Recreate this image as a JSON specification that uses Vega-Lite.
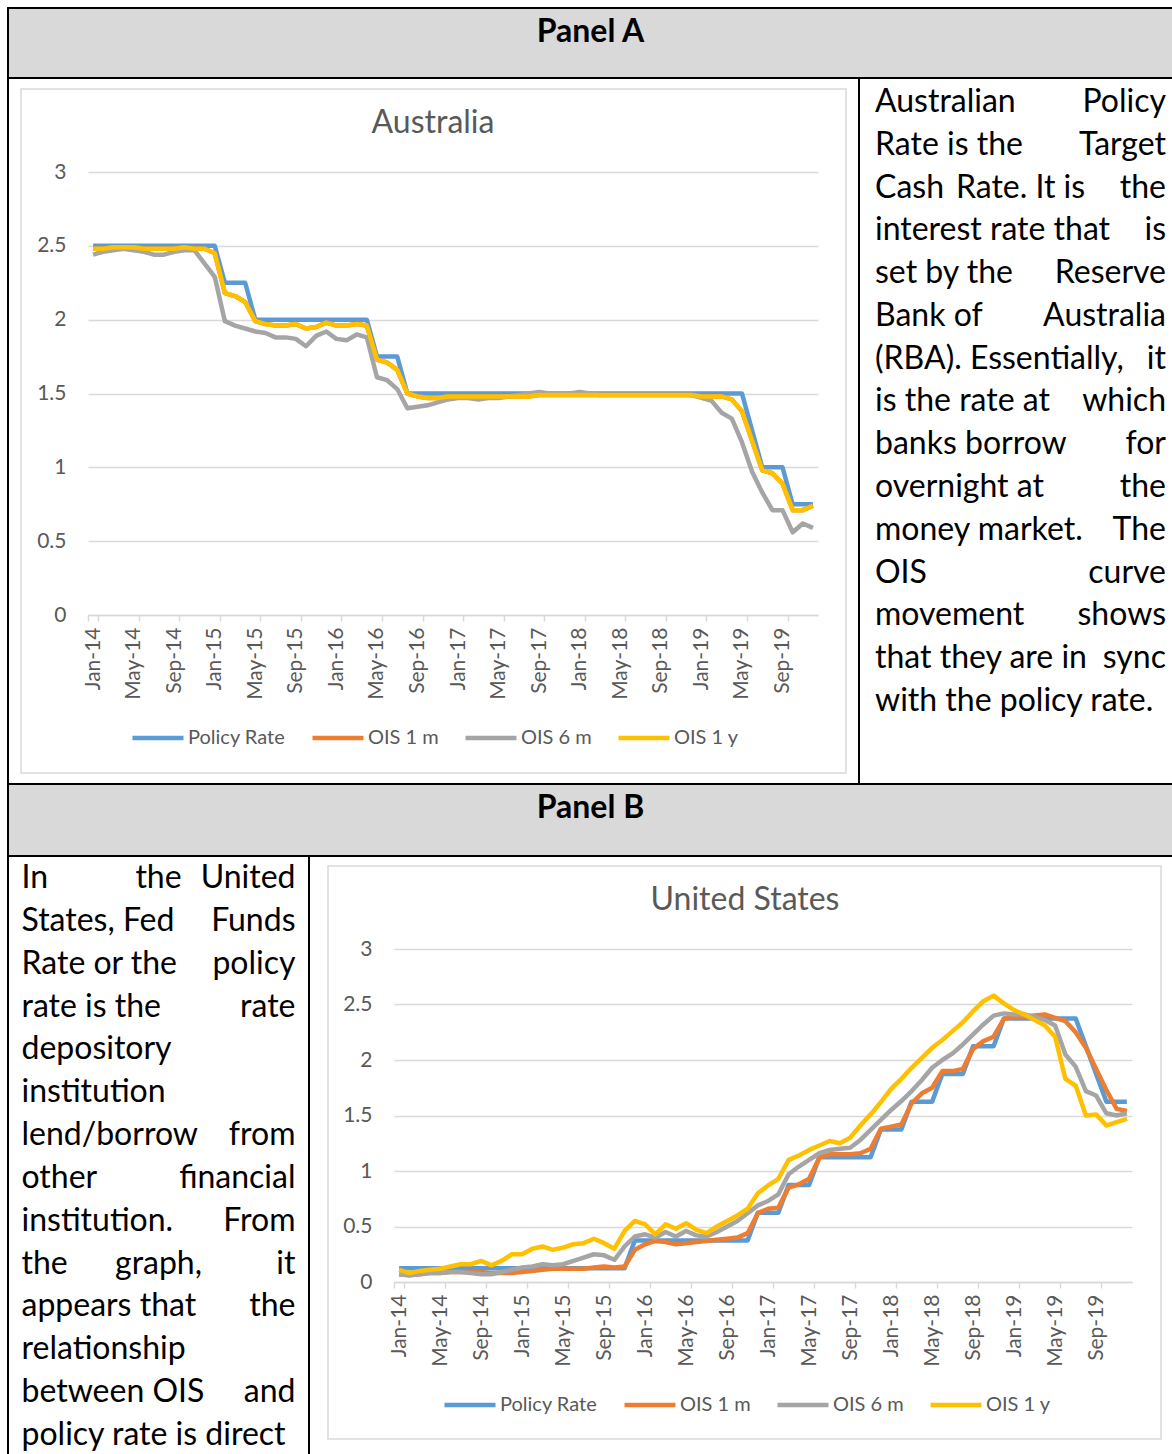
{
"$schema": "https://vega.github.io/schema/vega-lite/v6.json",
"background": "white",
"padding": {"left": 7, "top": 7, "right": 0, "bottom": 0},
"datasets": {
"au": [
{"d":"Jan-14","Policy Rate":2.5,"OIS 1 m":2.48,"OIS 6 m":2.44,"OIS 1 y":2.48},
{"d":"Feb-14","Policy Rate":2.5,"OIS 1 m":2.48,"OIS 6 m":2.46,"OIS 1 y":2.48},
{"d":"Mar-14","Policy Rate":2.5,"OIS 1 m":2.49,"OIS 6 m":2.47,"OIS 1 y":2.49},
{"d":"Apr-14","Policy Rate":2.5,"OIS 1 m":2.49,"OIS 6 m":2.48,"OIS 1 y":2.49},
{"d":"May-14","Policy Rate":2.5,"OIS 1 m":2.49,"OIS 6 m":2.47,"OIS 1 y":2.49},
{"d":"Jun-14","Policy Rate":2.5,"OIS 1 m":2.48,"OIS 6 m":2.46,"OIS 1 y":2.48},
{"d":"Jul-14","Policy Rate":2.5,"OIS 1 m":2.48,"OIS 6 m":2.44,"OIS 1 y":2.48},
{"d":"Aug-14","Policy Rate":2.5,"OIS 1 m":2.48,"OIS 6 m":2.44,"OIS 1 y":2.48},
{"d":"Sep-14","Policy Rate":2.5,"OIS 1 m":2.48,"OIS 6 m":2.46,"OIS 1 y":2.48},
{"d":"Oct-14","Policy Rate":2.5,"OIS 1 m":2.49,"OIS 6 m":2.47,"OIS 1 y":2.49},
{"d":"Nov-14","Policy Rate":2.5,"OIS 1 m":2.48,"OIS 6 m":2.47,"OIS 1 y":2.48},
{"d":"Dec-14","Policy Rate":2.5,"OIS 1 m":2.48,"OIS 6 m":2.38,"OIS 1 y":2.48},
{"d":"Jan-15","Policy Rate":2.5,"OIS 1 m":2.45,"OIS 6 m":2.29,"OIS 1 y":2.45},
{"d":"Feb-15","Policy Rate":2.25,"OIS 1 m":2.18,"OIS 6 m":1.99,"OIS 1 y":2.18},
{"d":"Mar-15","Policy Rate":2.25,"OIS 1 m":2.16,"OIS 6 m":1.96,"OIS 1 y":2.16},
{"d":"Apr-15","Policy Rate":2.25,"OIS 1 m":2.12,"OIS 6 m":1.94,"OIS 1 y":2.12},
{"d":"May-15","Policy Rate":2.0,"OIS 1 m":1.99,"OIS 6 m":1.92,"OIS 1 y":1.99},
{"d":"Jun-15","Policy Rate":2.0,"OIS 1 m":1.97,"OIS 6 m":1.91,"OIS 1 y":1.97},
{"d":"Jul-15","Policy Rate":2.0,"OIS 1 m":1.96,"OIS 6 m":1.88,"OIS 1 y":1.96},
{"d":"Aug-15","Policy Rate":2.0,"OIS 1 m":1.96,"OIS 6 m":1.88,"OIS 1 y":1.96},
{"d":"Sep-15","Policy Rate":2.0,"OIS 1 m":1.97,"OIS 6 m":1.87,"OIS 1 y":1.97},
{"d":"Oct-15","Policy Rate":2.0,"OIS 1 m":1.94,"OIS 6 m":1.82,"OIS 1 y":1.94},
{"d":"Nov-15","Policy Rate":2.0,"OIS 1 m":1.95,"OIS 6 m":1.89,"OIS 1 y":1.95},
{"d":"Dec-15","Policy Rate":2.0,"OIS 1 m":1.98,"OIS 6 m":1.92,"OIS 1 y":1.98},
{"d":"Jan-16","Policy Rate":2.0,"OIS 1 m":1.96,"OIS 6 m":1.87,"OIS 1 y":1.96},
{"d":"Feb-16","Policy Rate":2.0,"OIS 1 m":1.96,"OIS 6 m":1.86,"OIS 1 y":1.96},
{"d":"Mar-16","Policy Rate":2.0,"OIS 1 m":1.97,"OIS 6 m":1.9,"OIS 1 y":1.97},
{"d":"Apr-16","Policy Rate":2.0,"OIS 1 m":1.96,"OIS 6 m":1.88,"OIS 1 y":1.96},
{"d":"May-16","Policy Rate":1.75,"OIS 1 m":1.73,"OIS 6 m":1.61,"OIS 1 y":1.73},
{"d":"Jun-16","Policy Rate":1.75,"OIS 1 m":1.71,"OIS 6 m":1.59,"OIS 1 y":1.71},
{"d":"Jul-16","Policy Rate":1.75,"OIS 1 m":1.66,"OIS 6 m":1.53,"OIS 1 y":1.66},
{"d":"Aug-16","Policy Rate":1.5,"OIS 1 m":1.5,"OIS 6 m":1.4,"OIS 1 y":1.5},
{"d":"Sep-16","Policy Rate":1.5,"OIS 1 m":1.48,"OIS 6 m":1.41,"OIS 1 y":1.48},
{"d":"Oct-16","Policy Rate":1.5,"OIS 1 m":1.47,"OIS 6 m":1.42,"OIS 1 y":1.47},
{"d":"Nov-16","Policy Rate":1.5,"OIS 1 m":1.47,"OIS 6 m":1.44,"OIS 1 y":1.47},
{"d":"Dec-16","Policy Rate":1.5,"OIS 1 m":1.48,"OIS 6 m":1.46,"OIS 1 y":1.48},
{"d":"Jan-17","Policy Rate":1.5,"OIS 1 m":1.48,"OIS 6 m":1.47,"OIS 1 y":1.48},
{"d":"Feb-17","Policy Rate":1.5,"OIS 1 m":1.48,"OIS 6 m":1.47,"OIS 1 y":1.48},
{"d":"Mar-17","Policy Rate":1.5,"OIS 1 m":1.48,"OIS 6 m":1.46,"OIS 1 y":1.48},
{"d":"Apr-17","Policy Rate":1.5,"OIS 1 m":1.48,"OIS 6 m":1.47,"OIS 1 y":1.48},
{"d":"May-17","Policy Rate":1.5,"OIS 1 m":1.48,"OIS 6 m":1.47,"OIS 1 y":1.48},
{"d":"Jun-17","Policy Rate":1.5,"OIS 1 m":1.48,"OIS 6 m":1.48,"OIS 1 y":1.48},
{"d":"Jul-17","Policy Rate":1.5,"OIS 1 m":1.48,"OIS 6 m":1.49,"OIS 1 y":1.48},
{"d":"Aug-17","Policy Rate":1.5,"OIS 1 m":1.48,"OIS 6 m":1.5,"OIS 1 y":1.48},
{"d":"Sep-17","Policy Rate":1.5,"OIS 1 m":1.49,"OIS 6 m":1.51,"OIS 1 y":1.49},
{"d":"Oct-17","Policy Rate":1.5,"OIS 1 m":1.49,"OIS 6 m":1.5,"OIS 1 y":1.49},
{"d":"Nov-17","Policy Rate":1.5,"OIS 1 m":1.49,"OIS 6 m":1.5,"OIS 1 y":1.49},
{"d":"Dec-17","Policy Rate":1.5,"OIS 1 m":1.49,"OIS 6 m":1.5,"OIS 1 y":1.49},
{"d":"Jan-18","Policy Rate":1.5,"OIS 1 m":1.49,"OIS 6 m":1.51,"OIS 1 y":1.49},
{"d":"Feb-18","Policy Rate":1.5,"OIS 1 m":1.49,"OIS 6 m":1.5,"OIS 1 y":1.49},
{"d":"Mar-18","Policy Rate":1.5,"OIS 1 m":1.49,"OIS 6 m":1.49,"OIS 1 y":1.49},
{"d":"Apr-18","Policy Rate":1.5,"OIS 1 m":1.49,"OIS 6 m":1.49,"OIS 1 y":1.49},
{"d":"May-18","Policy Rate":1.5,"OIS 1 m":1.49,"OIS 6 m":1.49,"OIS 1 y":1.49},
{"d":"Jun-18","Policy Rate":1.5,"OIS 1 m":1.49,"OIS 6 m":1.49,"OIS 1 y":1.49},
{"d":"Jul-18","Policy Rate":1.5,"OIS 1 m":1.49,"OIS 6 m":1.49,"OIS 1 y":1.49},
{"d":"Aug-18","Policy Rate":1.5,"OIS 1 m":1.49,"OIS 6 m":1.49,"OIS 1 y":1.49},
{"d":"Sep-18","Policy Rate":1.5,"OIS 1 m":1.49,"OIS 6 m":1.49,"OIS 1 y":1.49},
{"d":"Oct-18","Policy Rate":1.5,"OIS 1 m":1.49,"OIS 6 m":1.49,"OIS 1 y":1.49},
{"d":"Nov-18","Policy Rate":1.5,"OIS 1 m":1.49,"OIS 6 m":1.49,"OIS 1 y":1.49},
{"d":"Dec-18","Policy Rate":1.5,"OIS 1 m":1.49,"OIS 6 m":1.49,"OIS 1 y":1.49},
{"d":"Jan-19","Policy Rate":1.5,"OIS 1 m":1.48,"OIS 6 m":1.47,"OIS 1 y":1.48},
{"d":"Feb-19","Policy Rate":1.5,"OIS 1 m":1.48,"OIS 6 m":1.45,"OIS 1 y":1.48},
{"d":"Mar-19","Policy Rate":1.5,"OIS 1 m":1.48,"OIS 6 m":1.37,"OIS 1 y":1.48},
{"d":"Apr-19","Policy Rate":1.5,"OIS 1 m":1.46,"OIS 6 m":1.33,"OIS 1 y":1.46},
{"d":"May-19","Policy Rate":1.5,"OIS 1 m":1.38,"OIS 6 m":1.17,"OIS 1 y":1.38},
{"d":"Jun-19","Policy Rate":1.25,"OIS 1 m":1.18,"OIS 6 m":0.97,"OIS 1 y":1.18},
{"d":"Jul-19","Policy Rate":1.0,"OIS 1 m":0.98,"OIS 6 m":0.83,"OIS 1 y":0.98},
{"d":"Aug-19","Policy Rate":1.0,"OIS 1 m":0.96,"OIS 6 m":0.71,"OIS 1 y":0.96},
{"d":"Sep-19","Policy Rate":1.0,"OIS 1 m":0.89,"OIS 6 m":0.71,"OIS 1 y":0.89},
{"d":"Oct-19","Policy Rate":0.75,"OIS 1 m":0.71,"OIS 6 m":0.56,"OIS 1 y":0.71},
{"d":"Nov-19","Policy Rate":0.75,"OIS 1 m":0.71,"OIS 6 m":0.62,"OIS 1 y":0.71},
{"d":"Dec-19","Policy Rate":0.75,"OIS 1 m":0.74,"OIS 6 m":0.59,"OIS 1 y":0.74}
],
"us": [
{"d":"Jan-14","Policy Rate":0.125,"OIS 1 m":0.07,"OIS 6 m":0.07,"OIS 1 y":0.11},
{"d":"Feb-14","Policy Rate":0.125,"OIS 1 m":0.06,"OIS 6 m":0.06,"OIS 1 y":0.08},
{"d":"Mar-14","Policy Rate":0.125,"OIS 1 m":0.07,"OIS 6 m":0.07,"OIS 1 y":0.1},
{"d":"Apr-14","Policy Rate":0.125,"OIS 1 m":0.08,"OIS 6 m":0.08,"OIS 1 y":0.11},
{"d":"May-14","Policy Rate":0.125,"OIS 1 m":0.08,"OIS 6 m":0.08,"OIS 1 y":0.12},
{"d":"Jun-14","Policy Rate":0.125,"OIS 1 m":0.09,"OIS 6 m":0.09,"OIS 1 y":0.14},
{"d":"Jul-14","Policy Rate":0.125,"OIS 1 m":0.09,"OIS 6 m":0.09,"OIS 1 y":0.16},
{"d":"Aug-14","Policy Rate":0.125,"OIS 1 m":0.09,"OIS 6 m":0.08,"OIS 1 y":0.16},
{"d":"Sep-14","Policy Rate":0.125,"OIS 1 m":0.09,"OIS 6 m":0.07,"OIS 1 y":0.19},
{"d":"Oct-14","Policy Rate":0.125,"OIS 1 m":0.08,"OIS 6 m":0.07,"OIS 1 y":0.15},
{"d":"Nov-14","Policy Rate":0.125,"OIS 1 m":0.08,"OIS 6 m":0.09,"OIS 1 y":0.19},
{"d":"Dec-14","Policy Rate":0.125,"OIS 1 m":0.08,"OIS 6 m":0.11,"OIS 1 y":0.25},
{"d":"Jan-15","Policy Rate":0.125,"OIS 1 m":0.09,"OIS 6 m":0.13,"OIS 1 y":0.25},
{"d":"Feb-15","Policy Rate":0.125,"OIS 1 m":0.1,"OIS 6 m":0.14,"OIS 1 y":0.3},
{"d":"Mar-15","Policy Rate":0.125,"OIS 1 m":0.11,"OIS 6 m":0.16,"OIS 1 y":0.32},
{"d":"Apr-15","Policy Rate":0.125,"OIS 1 m":0.12,"OIS 6 m":0.15,"OIS 1 y":0.29},
{"d":"May-15","Policy Rate":0.125,"OIS 1 m":0.12,"OIS 6 m":0.16,"OIS 1 y":0.31},
{"d":"Jun-15","Policy Rate":0.125,"OIS 1 m":0.12,"OIS 6 m":0.19,"OIS 1 y":0.34},
{"d":"Jul-15","Policy Rate":0.125,"OIS 1 m":0.12,"OIS 6 m":0.22,"OIS 1 y":0.35},
{"d":"Aug-15","Policy Rate":0.125,"OIS 1 m":0.13,"OIS 6 m":0.25,"OIS 1 y":0.39},
{"d":"Sep-15","Policy Rate":0.125,"OIS 1 m":0.14,"OIS 6 m":0.24,"OIS 1 y":0.35},
{"d":"Oct-15","Policy Rate":0.125,"OIS 1 m":0.13,"OIS 6 m":0.2,"OIS 1 y":0.3},
{"d":"Nov-15","Policy Rate":0.125,"OIS 1 m":0.14,"OIS 6 m":0.32,"OIS 1 y":0.46},
{"d":"Dec-15","Policy Rate":0.375,"OIS 1 m":0.29,"OIS 6 m":0.41,"OIS 1 y":0.55},
{"d":"Jan-16","Policy Rate":0.375,"OIS 1 m":0.34,"OIS 6 m":0.43,"OIS 1 y":0.52},
{"d":"Feb-16","Policy Rate":0.375,"OIS 1 m":0.37,"OIS 6 m":0.4,"OIS 1 y":0.43},
{"d":"Mar-16","Policy Rate":0.375,"OIS 1 m":0.36,"OIS 6 m":0.45,"OIS 1 y":0.52},
{"d":"Apr-16","Policy Rate":0.375,"OIS 1 m":0.34,"OIS 6 m":0.41,"OIS 1 y":0.48},
{"d":"May-16","Policy Rate":0.375,"OIS 1 m":0.35,"OIS 6 m":0.46,"OIS 1 y":0.53},
{"d":"Jun-16","Policy Rate":0.375,"OIS 1 m":0.36,"OIS 6 m":0.42,"OIS 1 y":0.47},
{"d":"Jul-16","Policy Rate":0.375,"OIS 1 m":0.37,"OIS 6 m":0.41,"OIS 1 y":0.44},
{"d":"Aug-16","Policy Rate":0.375,"OIS 1 m":0.38,"OIS 6 m":0.45,"OIS 1 y":0.5},
{"d":"Sep-16","Policy Rate":0.375,"OIS 1 m":0.39,"OIS 6 m":0.5,"OIS 1 y":0.55},
{"d":"Oct-16","Policy Rate":0.375,"OIS 1 m":0.4,"OIS 6 m":0.55,"OIS 1 y":0.6},
{"d":"Nov-16","Policy Rate":0.375,"OIS 1 m":0.44,"OIS 6 m":0.62,"OIS 1 y":0.66},
{"d":"Dec-16","Policy Rate":0.625,"OIS 1 m":0.62,"OIS 6 m":0.69,"OIS 1 y":0.8},
{"d":"Jan-17","Policy Rate":0.625,"OIS 1 m":0.66,"OIS 6 m":0.73,"OIS 1 y":0.87},
{"d":"Feb-17","Policy Rate":0.625,"OIS 1 m":0.67,"OIS 6 m":0.79,"OIS 1 y":0.93},
{"d":"Mar-17","Policy Rate":0.875,"OIS 1 m":0.85,"OIS 6 m":0.97,"OIS 1 y":1.1},
{"d":"Apr-17","Policy Rate":0.875,"OIS 1 m":0.88,"OIS 6 m":1.04,"OIS 1 y":1.14},
{"d":"May-17","Policy Rate":0.875,"OIS 1 m":0.93,"OIS 6 m":1.1,"OIS 1 y":1.19},
{"d":"Jun-17","Policy Rate":1.125,"OIS 1 m":1.12,"OIS 6 m":1.16,"OIS 1 y":1.23},
{"d":"Jul-17","Policy Rate":1.125,"OIS 1 m":1.15,"OIS 6 m":1.19,"OIS 1 y":1.27},
{"d":"Aug-17","Policy Rate":1.125,"OIS 1 m":1.15,"OIS 6 m":1.2,"OIS 1 y":1.25},
{"d":"Sep-17","Policy Rate":1.125,"OIS 1 m":1.15,"OIS 6 m":1.21,"OIS 1 y":1.3},
{"d":"Oct-17","Policy Rate":1.125,"OIS 1 m":1.16,"OIS 6 m":1.28,"OIS 1 y":1.41},
{"d":"Nov-17","Policy Rate":1.125,"OIS 1 m":1.2,"OIS 6 m":1.37,"OIS 1 y":1.51},
{"d":"Dec-17","Policy Rate":1.375,"OIS 1 m":1.38,"OIS 6 m":1.46,"OIS 1 y":1.62},
{"d":"Jan-18","Policy Rate":1.375,"OIS 1 m":1.4,"OIS 6 m":1.55,"OIS 1 y":1.74},
{"d":"Feb-18","Policy Rate":1.375,"OIS 1 m":1.42,"OIS 6 m":1.63,"OIS 1 y":1.83},
{"d":"Mar-18","Policy Rate":1.625,"OIS 1 m":1.61,"OIS 6 m":1.72,"OIS 1 y":1.93},
{"d":"Apr-18","Policy Rate":1.625,"OIS 1 m":1.7,"OIS 6 m":1.82,"OIS 1 y":2.02},
{"d":"May-18","Policy Rate":1.625,"OIS 1 m":1.75,"OIS 6 m":1.93,"OIS 1 y":2.11},
{"d":"Jun-18","Policy Rate":1.875,"OIS 1 m":1.9,"OIS 6 m":2.0,"OIS 1 y":2.18},
{"d":"Jul-18","Policy Rate":1.875,"OIS 1 m":1.9,"OIS 6 m":2.06,"OIS 1 y":2.26},
{"d":"Aug-18","Policy Rate":1.875,"OIS 1 m":1.92,"OIS 6 m":2.14,"OIS 1 y":2.34},
{"d":"Sep-18","Policy Rate":2.125,"OIS 1 m":2.1,"OIS 6 m":2.23,"OIS 1 y":2.44},
{"d":"Oct-18","Policy Rate":2.125,"OIS 1 m":2.17,"OIS 6 m":2.32,"OIS 1 y":2.53},
{"d":"Nov-18","Policy Rate":2.125,"OIS 1 m":2.21,"OIS 6 m":2.4,"OIS 1 y":2.58},
{"d":"Dec-18","Policy Rate":2.375,"OIS 1 m":2.37,"OIS 6 m":2.42,"OIS 1 y":2.51},
{"d":"Jan-19","Policy Rate":2.375,"OIS 1 m":2.39,"OIS 6 m":2.41,"OIS 1 y":2.45},
{"d":"Feb-19","Policy Rate":2.375,"OIS 1 m":2.39,"OIS 6 m":2.41,"OIS 1 y":2.41},
{"d":"Mar-19","Policy Rate":2.375,"OIS 1 m":2.4,"OIS 6 m":2.39,"OIS 1 y":2.36},
{"d":"Apr-19","Policy Rate":2.375,"OIS 1 m":2.41,"OIS 6 m":2.36,"OIS 1 y":2.31},
{"d":"May-19","Policy Rate":2.375,"OIS 1 m":2.38,"OIS 6 m":2.31,"OIS 1 y":2.21},
{"d":"Jun-19","Policy Rate":2.375,"OIS 1 m":2.35,"OIS 6 m":2.05,"OIS 1 y":1.83},
{"d":"Jul-19","Policy Rate":2.375,"OIS 1 m":2.25,"OIS 6 m":1.94,"OIS 1 y":1.77},
{"d":"Aug-19","Policy Rate":2.125,"OIS 1 m":2.11,"OIS 6 m":1.72,"OIS 1 y":1.5},
{"d":"Sep-19","Policy Rate":1.875,"OIS 1 m":1.92,"OIS 6 m":1.68,"OIS 1 y":1.51},
{"d":"Oct-19","Policy Rate":1.625,"OIS 1 m":1.73,"OIS 6 m":1.52,"OIS 1 y":1.41},
{"d":"Nov-19","Policy Rate":1.625,"OIS 1 m":1.56,"OIS 6 m":1.5,"OIS 1 y":1.44},
{"d":"Dec-19","Policy Rate":1.625,"OIS 1 m":1.54,"OIS 6 m":1.52,"OIS 1 y":1.47}
],
"ta": [
{"ln":1,"s":"L","t":"Australian"},{"ln":1,"s":"R","t":"Policy"},
{"ln":2,"s":"L","t":"Rate is the"},{"ln":2,"s":"R","t":"Target"},
{"ln":3,"s":"L","t":"Cash"},{"ln":3,"s":"M","t":"Rate. It is"},{"ln":3,"s":"R","t":"the"},
{"ln":4,"s":"L","t":"interest rate that"},{"ln":4,"s":"R","t":"is"},
{"ln":5,"s":"L","t":"set by the"},{"ln":5,"s":"R","t":"Reserve"},
{"ln":6,"s":"L","t":"Bank of"},{"ln":6,"s":"R","t":"Australia"},
{"ln":7,"s":"L","t":"(RBA). Essentially,"},{"ln":7,"s":"R","t":"it"},
{"ln":8,"s":"L","t":"is the rate at"},{"ln":8,"s":"R","t":"which"},
{"ln":9,"s":"L","t":"banks borrow"},{"ln":9,"s":"R","t":"for"},
{"ln":10,"s":"L","t":"overnight at"},{"ln":10,"s":"R","t":"the"},
{"ln":11,"s":"L","t":"money market."},{"ln":11,"s":"R","t":"The"},
{"ln":12,"s":"L","t":"OIS"},{"ln":12,"s":"R","t":"curve"},
{"ln":13,"s":"L","t":"movement"},{"ln":13,"s":"R","t":"shows"},
{"ln":14,"s":"L","t":"that they are in"},{"ln":14,"s":"R","t":"sync"},
{"ln":15,"s":"L","t":"with the policy rate."}
],
"tb": [
{"ln":1,"s":"L","t":"In"},{"ln":1,"s":"M","t":"the"},{"ln":1,"s":"R","t":"United"},
{"ln":2,"s":"L","t":"States, Fed"},{"ln":2,"s":"R","t":"Funds"},
{"ln":3,"s":"L","t":"Rate or the"},{"ln":3,"s":"R","t":"policy"},
{"ln":4,"s":"L","t":"rate is the"},{"ln":4,"s":"R","t":"rate"},
{"ln":5,"s":"L","t":"depository"},
{"ln":6,"s":"L","t":"institution"},
{"ln":7,"s":"L","t":"lend/borrow"},{"ln":7,"s":"R","t":"from"},
{"ln":8,"s":"L","t":"other"},{"ln":8,"s":"R","t":"financial"},
{"ln":9,"s":"L","t":"institution."},{"ln":9,"s":"R","t":"From"},
{"ln":10,"s":"L","t":"the"},{"ln":10,"s":"M","t":"graph,"},{"ln":10,"s":"R","t":"it"},
{"ln":11,"s":"L","t":"appears that"},{"ln":11,"s":"R","t":"the"},
{"ln":12,"s":"L","t":"relationship"},
{"ln":13,"s":"L","t":"between OIS"},{"ln":13,"s":"R","t":"and"},
{"ln":14,"s":"L","t":"policy rate is direct"}
]
},
"spacing": 0,
"bounds": "flush",
"resolve": {"scale": {"color": "independent"}, "legend": {"color": "independent"}},
"vconcat": [
{"width":1165,"height":70,"view":{"fill":"#d9d9d9","stroke":"#000000","strokeWidth":2},"data":{"values":[{"t":"Panel A"}]},"mark":{"type":"text","fontWeight":"bold","dy":-11},"encoding":{"text":{"field":"t"}}},
{"hconcat":[
 {"width":851,"height":706,"view":{"stroke":"#000000","strokeWidth":2},"data":{"values":[]},"mark":"point"},
 {"width":323,"height":706,"data":{"name":"ta"},
  "encoding":{"x":{"field":"s","type":"nominal","scale":{"type":"point","domain":["L","M","R"],"padding":0.11},"axis":null},
   "y":{"field":"ln","type":"quantitative","scale":{"domain":[0.439,16.94],"reverse":true,"nice":false,"zero":false},"axis":null},
   "text":{"field":"t"}},
  "layer":[
   {"transform":[{"filter":"datum.s == 'L'"}],"mark":{"type":"text","align":"left"}},
   {"transform":[{"filter":"datum.s == 'M'"}],"mark":{"type":"text","align":"center"}},
   {"transform":[{"filter":"datum.s == 'R'"}],"mark":{"type":"text","align":"right"}}
  ]}
 ],"spacing":0,"bounds":"flush"},
{"vconcat":[
 {"width":1,"height":11,"data":{"values":[]},"mark":"point"},
 {"hconcat":[
  {"width":13,"height":1,"data":{"values":[]},"mark":"point"},
  {"width":825,"height":684,"view":{"stroke":"#d9d9d9","strokeWidth":1.5},"data":{"values":[]},"mark":"point"}
 ],"spacing":0,"bounds":"flush"}
],"spacing":0,"bounds":"flush"},
{"vconcat":[
 {"width":1,"height":94,"data":{"values":[]},"mark":"point"},
 {"hconcat":[
  {"width":80,"height":1,"data":{"values":[]},"mark":"point"},
  {"width":730,"height":443,"data":{"name":"au"},
   "title":{"text":"Australia","dx":-20,"offset":-4,"baseline":"alphabetic"},
   "transform":[{"fold":["Policy Rate","OIS 1 m","OIS 6 m","OIS 1 y"],"as":["series","value"]}],
   "mark":{"type":"line","strokeWidth":4.5,"strokeJoin":"round"},
   "encoding":{
    "x":{"field":"d","type":"ordinal","sort":null,"scale":{"type":"band","paddingInner":0,"paddingOuter":0},
     "axis":{"title":null,"tickBand":"extent","values":["Jan-14","May-14","Sep-14","Jan-15","May-15","Sep-15","Jan-16","May-16","Sep-16","Jan-17","May-17","Sep-17","Jan-18","May-18","Sep-18","Jan-19","May-19","Sep-19"]}},
    "y":{"field":"value","type":"quantitative","scale":{"domain":[0,3],"nice":false},"axis":{"title":null,"values":[0,0.5,1,1.5,2,2.5,3],"format":"~g"}},
    "color":{"field":"series","type":"nominal","scale":{"domain":["Policy Rate","OIS 1 m","OIS 6 m","OIS 1 y"],"range":["#5b9bd5","#ed7d31","#a5a5a5","#ffc000"]},
     "legend":{"title":null,"orient":"none","legendX":122,"legendY":632,"direction":"horizontal"}},
    "order":{"value":null}
   }}
 ],"spacing":0,"bounds":"flush"}
],"spacing":0,"bounds":"flush"},
{"width":1,"height":706,"data":{"values":[]},"mark":"point"},
{"width":1165,"height":72,"view":{"fill":"#d9d9d9","stroke":"#000000","strokeWidth":2},"data":{"values":[{"t":"Panel B"}]},"mark":{"type":"text","fontWeight":"bold","dy":-12},"encoding":{"text":{"field":"t"}}},
{"vconcat":[
 {"width":1,"height":10,"data":{"values":[]},"mark":"point"},
 {"hconcat":[
  {"width":320,"height":1,"data":{"values":[]},"mark":"point"},
  {"width":833,"height":573,"view":{"stroke":"#d9d9d9","strokeWidth":1.5},"data":{"values":[]},"mark":"point"}
 ],"spacing":0,"bounds":"flush"}
],"spacing":0,"bounds":"flush"},
{"vconcat":[
 {"width":1,"height":93,"data":{"values":[]},"mark":"point"},
 {"hconcat":[
  {"width":386,"height":1,"data":{"values":[]},"mark":"point"},
  {"width":738,"height":333,"data":{"name":"us"},
   "title":{"text":"United States","dx":-18,"offset":-4,"baseline":"alphabetic"},
   "transform":[{"fold":["Policy Rate","OIS 1 m","OIS 6 m","OIS 1 y"],"as":["series","value"]}],
   "mark":{"type":"line","strokeWidth":4.5,"strokeJoin":"round"},
   "encoding":{
    "x":{"field":"d","type":"ordinal","sort":null,"scale":{"type":"band","paddingInner":0,"paddingOuter":0},
     "axis":{"title":null,"tickBand":"extent","values":["Jan-14","May-14","Sep-14","Jan-15","May-15","Sep-15","Jan-16","May-16","Sep-16","Jan-17","May-17","Sep-17","Jan-18","May-18","Sep-18","Jan-19","May-19","Sep-19"]}},
    "y":{"field":"value","type":"quantitative","scale":{"domain":[0,3],"nice":false},"axis":{"title":null,"values":[0,0.5,1,1.5,2,2.5,3],"format":"~g"}},
    "color":{"field":"series","type":"nominal","scale":{"domain":["Policy Rate","OIS 1 m","OIS 6 m","OIS 1 y"],"range":["#5b9bd5","#ed7d31","#a5a5a5","#ffc000"]},
     "legend":{"title":null,"orient":"none","legendX":434,"legendY":521,"direction":"horizontal"}},
    "order":{"value":null}
   }}
 ],"spacing":0,"bounds":"flush"}
],"spacing":0,"bounds":"flush"},
{"width":301,"height":602,"view":{"stroke":"#000000","strokeWidth":2},"data":{"name":"tb"},
 "encoding":{"x":{"field":"s","type":"nominal","scale":{"type":"point","domain":["L","M","R"],"padding":0.0985},"axis":null},
  "y":{"field":"ln","type":"quantitative","scale":{"domain":[0.4865,14.537],"reverse":true,"nice":false,"zero":false},"axis":null},
  "text":{"field":"t"}},
 "layer":[
  {"transform":[{"filter":"datum.s == 'L'"}],"mark":{"type":"text","align":"left"}},
  {"transform":[{"filter":"datum.s == 'M'"}],"mark":{"type":"text","align":"center"}},
  {"transform":[{"filter":"datum.s == 'R'"}],"mark":{"type":"text","align":"right"}}
 ]}
],
"config": {
 "view": {"stroke": null},
 "font": "Lato",
 "axis": {"labelFont":"Lato","labelFontSize":21,"labelColor":"#595959"},
 "axisX": {"labelAngle":-90,"domainColor":"#d9d9d9","domainWidth":1.5,"tickColor":"#d9d9d9","tickWidth":1.5,"tickSize":6,"labelPadding":6,"grid":false},
 "axisY": {"domain":false,"ticks":false,"grid":true,"gridColor":"#d9d9d9","gridWidth":1.5,"labelPadding":22},
 "legend": {"labelFont":"Lato","labelFontSize":20,"labelColor":"#595959","symbolType":"stroke","symbolSize":2601,"symbolStrokeWidth":4.5,"labelOffset":2,"columnPadding":17,"padding":0},
 "title": {"font":"Lato","fontSize":32,"fontWeight":"normal","color":"#595959","anchor":"middle","frame":"group"},
 "text": {"font":"Lato","fontSize":32,"color":"#000000","baseline":"middle"}
}
}
